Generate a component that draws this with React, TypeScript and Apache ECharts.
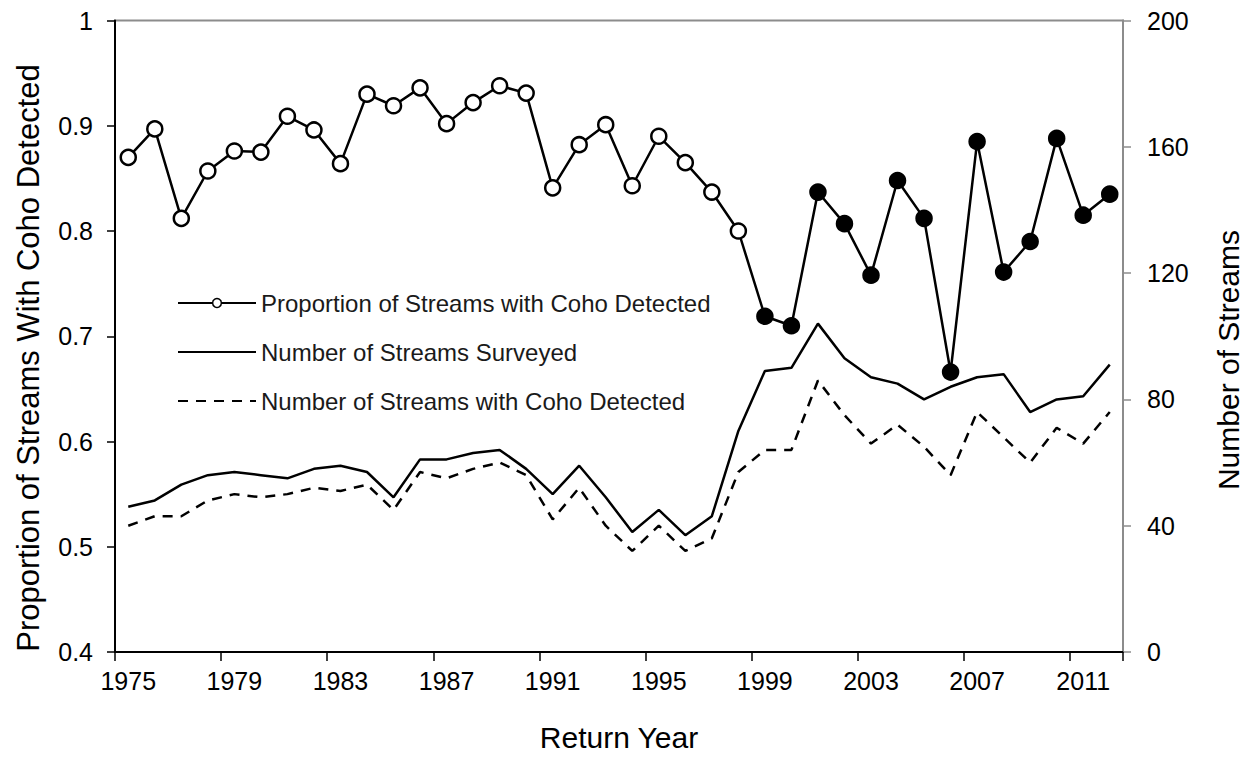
import React, { useEffect, useRef } from "react";
import * as echarts from "echarts";

const years = [
  "1975", "1976", "1977", "1978", "1979", "1980", "1981", "1982", "1983", "1984",
  "1985", "1986", "1987", "1988", "1989", "1990", "1991", "1992", "1993", "1994",
  "1995", "1996", "1997", "1998", "1999", "2000", "2001", "2002", "2003", "2004",
  "2005", "2006", "2007", "2008", "2009", "2010", "2011", "2012",
];

const proportion = [
  0.870, 0.897, 0.812, 0.857, 0.876, 0.875, 0.909, 0.896, 0.864, 0.930,
  0.919, 0.936, 0.902, 0.922, 0.938, 0.931, 0.841, 0.882, 0.901, 0.843,
  0.890, 0.865, 0.837, 0.800, 0.719, 0.710, 0.837, 0.807, 0.758, 0.848,
  0.812, 0.666, 0.885, 0.761, 0.790, 0.888, 0.815, 0.835,
];

const surveyed = [
  46, 48, 53, 56, 57, 56, 55, 58, 59, 57,
  49, 61, 61, 63, 64, 58, 50, 59, 49, 38,
  45, 37, 43, 70, 89, 90, 104, 93, 87, 85,
  80, 84, 87, 88, 76, 80, 81, 91,
];

const detected = [
  40, 43, 43, 48, 50, 49, 50, 52, 51, 53,
  45, 57, 55, 58, 60, 56, 42, 52, 40, 32,
  40, 32, 36, 57, 64, 64, 86, 75, 66, 72,
  65, 56, 76, 68, 60, 71, 66, 76,
];

// first year drawn with filled markers
const filledFrom = "1999";

const leftTicks = { min: 0.4, max: 1, interval: 0.1 };
const rightTicks = { min: 0, max: 200, interval: 40 };

const seriesNames = [
  "Proportion of Streams with Coho Detected",
  "Number of Streams Surveyed",
  "Number of Streams with Coho Detected",
];

const FONT = "'Liberation Sans', Arial, sans-serif";

export default function App() {
  const ref = useRef<HTMLDivElement | null>(null);

  useEffect(() => {
    if (!ref.current) return;
    const chart = echarts.init(ref.current, null, { renderer: "svg" });
    const filledIdx = years.indexOf(filledFrom);

    const option: any = {
      animation: false,
      backgroundColor: "#ffffff",
      textStyle: { fontFamily: FONT },
      grid: {
        left: 115,
        right: 124,
        top: 20.5,
        bottom: 104.3,
        show: true,
        borderColor: "#8c8c8c",
        borderWidth: 2,
        backgroundColor: "transparent",
      },
      legend: {
        orient: "vertical",
        left: 172,
        top: 286,
        itemWidth: 78,
        itemHeight: 11,
        itemGap: 25,
        itemStyle: { borderWidth: 1.5 },
        textStyle: {
          fontSize: 24,
          color: "#1a1a1a",
          fontFamily: FONT,
          lineHeight: 24,
        },
        data: [
          { name: seriesNames[0] },
          { name: seriesNames[1], itemStyle: { opacity: 0 } },
          { name: seriesNames[2], itemStyle: { opacity: 0 } },
        ],
      },
      xAxis: {
        type: "category",
        data: years,
        boundaryGap: true,
        axisLine: { show: true, lineStyle: { color: "#000", width: 2 } },
        axisTick: {
          show: true,
          interval: 3,
          length: 9,
          lineStyle: { color: "#000", width: 1.5 },
        },
        axisLabel: {
          interval: 3,
          fontSize: 25,
          color: "#000",
          margin: 16,
          fontFamily: FONT,
        },
        splitLine: { show: false },
        name: "Return Year",
        nameLocation: "middle",
        nameGap: 70,
        nameTextStyle: { fontSize: 30, color: "#000", fontFamily: FONT },
      },
      yAxis: [
        {
          type: "value",
          position: "left",
          min: leftTicks.min,
          max: leftTicks.max,
          interval: leftTicks.interval,
          axisLine: { show: true, lineStyle: { color: "#000", width: 2 } },
          axisTick: { show: true, length: 8, lineStyle: { color: "#000", width: 1.5 } },
          axisLabel: {
            fontSize: 25,
            color: "#000",
            margin: 22,
            fontFamily: FONT,
            formatter: (v: number) => String(Math.round(v * 10) / 10),
          },
          splitLine: { show: false },
        },
        {
          type: "value",
          position: "right",
          min: rightTicks.min,
          max: rightTicks.max,
          interval: rightTicks.interval,
          axisLine: { show: true, lineStyle: { color: "#8c8c8c", width: 2 } },
          axisTick: { show: true, length: 8, lineStyle: { color: "#8c8c8c", width: 1.5 } },
          axisLabel: {
            fontSize: 25,
            color: "#000",
            margin: 24,
            fontFamily: FONT,
          },
          splitLine: { show: false },
        },
      ],
      graphic: [
        {
          type: "text",
          x: 28,
          y: 358,
          rotation: Math.PI / 2,
          style: {
            text: "Proportion of Streams With Coho Detected",
            fontSize: 31,
            fontFamily: FONT,
            fill: "#000",
            align: "center",
            verticalAlign: "middle",
          },
        },
        {
          type: "text",
          x: 1228,
          y: 360,
          rotation: Math.PI / 2,
          style: {
            text: "Number of Streams",
            fontSize: 30,
            fontFamily: FONT,
            fill: "#000",
            align: "center",
            verticalAlign: "middle",
          },
        },
      ],
      series: [
        {
          name: seriesNames[1],
          type: "line",
          yAxisIndex: 1,
          data: surveyed,
          symbol: "none",
          lineStyle: { color: "#000", width: 2.5 },
          itemStyle: { color: "#000" },
        },
        {
          name: seriesNames[2],
          type: "line",
          yAxisIndex: 1,
          data: detected,
          symbol: "none",
          lineStyle: { color: "#000", width: 2.5, type: [10, 8] },
          itemStyle: { color: "#000" },
        },
        {
          name: seriesNames[0],
          type: "line",
          yAxisIndex: 0,
          symbol: "circle",
          symbolSize: 15,
          lineStyle: { color: "#000", width: 2.5 },
          itemStyle: { color: "#fff", borderColor: "#000", borderWidth: 2.5 },
          data: proportion.map((v, i) =>
            i >= filledIdx ? { value: v, itemStyle: { color: "#000" } } : v
          ),
        },
      ],
    };

    chart.setOption(option);
    return () => chart.dispose();
  }, []);

  return (
    <div
      ref={ref}
      style={{ position: "fixed", left: 0, top: 0, width: 1247, height: 757, background: "#fff" }}
    />
  );
}
